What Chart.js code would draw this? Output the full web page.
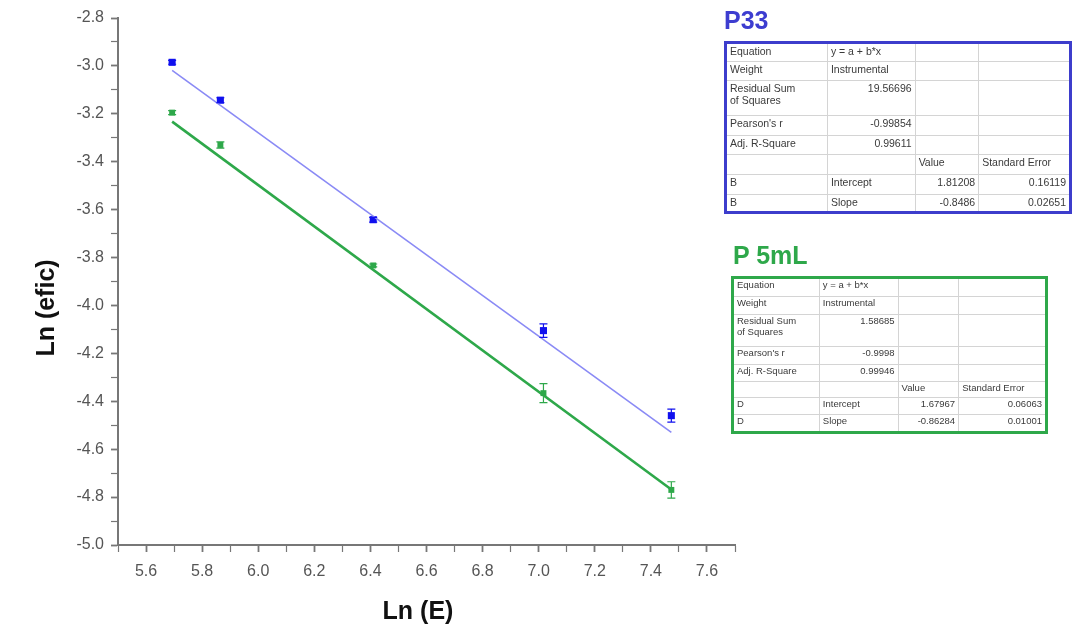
<!DOCTYPE html>
<html>
<head>
<meta charset="utf-8">
<script src="https://cdn.jsdelivr.net/npm/chart.js@4.4.1/dist/chart.umd.min.js"></script>
<style>
  html, body { margin: 0; padding: 0; background: #fff; }
  #wrap { position: relative; width: 1074px; height: 637px; overflow: hidden; }
  #chartBox { position: absolute; left: 0; top: 0; width: 1074px; height: 637px; }
  .fitTitle { position: absolute; font: bold 25px "Liberation Sans", Arial, sans-serif; }
  table.fit {
    position: absolute; border-collapse: collapse; table-layout: fixed;
    font-family: "Liberation Sans", Arial, sans-serif; color: #3a3a3a;
  }
  table.fit td { border: 1px solid #d4d4d4; padding: 1px 3px; vertical-align: top; white-space: nowrap; overflow: hidden; line-height: 1.15; }
  table.fit td.n { text-align: right; }
  #t1 { left: 724px; top: 41px; width: 348px; border: 3px solid #3d3dcc; font-size: 10.5px; }
  #t2 { left: 731px; top: 276px; width: 317px; border: 3px solid #2ea84a; font-size: 9.5px; }
</style>
</head>
<body>
<div id="wrap">
  <div id="chartBox"><canvas id="fitChart"></canvas></div>

  <div class="fitTitle" style="left:724px; top:6px; color:#3d3dd0;">P33</div>
  <table class="fit" id="t1">
    <colgroup><col style="width:101px"><col style="width:87px"><col style="width:63px"><col style="width:91px"></colgroup>
    <tr style="height:19px"><td>Equation</td><td>y = a + b*x</td><td></td><td></td></tr>
    <tr style="height:19px"><td>Weight</td><td>Instrumental</td><td></td><td></td></tr>
    <tr style="height:35px"><td>Residual Sum<br>of Squares</td><td class="n">19.56696</td><td></td><td></td></tr>
    <tr style="height:20px"><td>Pearson's r</td><td class="n">-0.99854</td><td></td><td></td></tr>
    <tr style="height:19px"><td>Adj. R-Square</td><td class="n">0.99611</td><td></td><td></td></tr>
    <tr style="height:20px"><td></td><td></td><td>Value</td><td>Standard Error</td></tr>
    <tr style="height:20px"><td>B</td><td>Intercept</td><td class="n">1.81208</td><td class="n">0.16119</td></tr>
    <tr style="height:18px"><td>B</td><td>Slope</td><td class="n">-0.8486</td><td class="n">0.02651</td></tr>
  </table>

  <div class="fitTitle" style="left:733px; top:241px; color:#2ea84a;">P 5mL</div>
  <table class="fit" id="t2">
    <colgroup><col style="width:86px"><col style="width:78px"><col style="width:60px"><col style="width:87px"></colgroup>
    <tr style="height:19px"><td>Equation</td><td>y = a + b*x</td><td></td><td></td></tr>
    <tr style="height:18px"><td>Weight</td><td>Instrumental</td><td></td><td></td></tr>
    <tr style="height:32px"><td>Residual Sum<br>of Squares</td><td class="n">1.58685</td><td></td><td></td></tr>
    <tr style="height:18px"><td>Pearson's r</td><td class="n">-0.9998</td><td></td><td></td></tr>
    <tr style="height:17px"><td>Adj. R-Square</td><td class="n">0.99946</td><td></td><td></td></tr>
    <tr style="height:16px"><td></td><td></td><td>Value</td><td>Standard Error</td></tr>
    <tr style="height:17px"><td>D</td><td>Intercept</td><td class="n">1.67967</td><td class="n">0.06063</td></tr>
    <tr style="height:18px"><td>D</td><td>Slope</td><td class="n">-0.86284</td><td class="n">0.01001</td></tr>
  </table>
</div>

<script>
// Ln(E) values and measured Ln(efic) with their errors
const lnE = [5.693, 5.865, 6.41, 7.017, 7.473];
const p33Efic = [-2.985, -3.143, -3.642, -4.105, -4.46];
const p33Err = [0.008, 0.01, 0.01, 0.028, 0.027];
const p5Efic = [-3.195, -3.33, -3.833, -4.366, -4.77];
const p5Err = [0.008, 0.013, 0.006, 0.04, 0.034];

// linear fit parameters (intercept, slope)
const p33Fit = [1.81208, -0.8486];
const p5Fit = [1.67967, -0.86284];

const xMin = 5.5, xMax = 7.7;
const yMin = -5.0, yMax = -2.8;

function fitLine(fit) {
    const x0 = lnE[0], x1 = lnE[lnE.length - 1];
    return [{ x: x0, y: fit[0] + fit[1] * x0 }, { x: x1, y: fit[0] + fit[1] * x1 }];
}
function points(ys) {
    return lnE.map((x, i) => ({ x: x, y: ys[i] }));
}

// vertical error bars with caps
const errorBars = {
    id: 'errorBars',
    afterDatasetsDraw(chart) {
        const ctx = chart.ctx;
        const xs = chart.scales.x, ys = chart.scales.y;
        chart.data.datasets.forEach(ds => {
            if (!ds.errors) return;
            ctx.save();
            ctx.strokeStyle = ds.borderColor;
            ctx.lineWidth = 1.2;
            ds.data.forEach((p, i) => {
                const px = xs.getPixelForValue(p.x);
                const top = ys.getPixelForValue(p.y + ds.errors[i]);
                const bot = ys.getPixelForValue(p.y - ds.errors[i]);
                ctx.beginPath();
                ctx.moveTo(px, top); ctx.lineTo(px, bot);
                ctx.moveTo(px - 4, top); ctx.lineTo(px + 4, top);
                ctx.moveTo(px - 4, bot); ctx.lineTo(px + 4, bot);
                ctx.stroke();
            });
            ctx.restore();
        });
    }
};

// axis titles
const axisTitles = {
    id: 'axisTitles',
    afterDraw(chart) {
        const ctx = chart.ctx, area = chart.chartArea;
        ctx.save();
        ctx.font = 'bold 25px "Liberation Sans", Arial, sans-serif';
        ctx.fillStyle = '#111';
        ctx.textAlign = 'center';
        ctx.textBaseline = 'middle';
        ctx.fillText('Ln (E)', area.left + 300, 612);
        ctx.translate(47, area.top + 290);
        ctx.rotate(-Math.PI / 2);
        ctx.fillText('Ln (efic)', 0, 0);
        ctx.restore();
    }
};

const tickFont = { family: '"Liberation Sans", Arial, sans-serif', size: 16 };
const evenTenth = v => Math.round(v * 10) % 2 === 0;

const ctx = document.getElementById('fitChart').getContext('2d');
new Chart(ctx, {
    data: {
        datasets: [
            {
                type: 'line',
                label: 'P33 fit',
                data: fitLine(p33Fit),
                borderColor: '#8a8af5',
                borderWidth: 1.6,
                pointRadius: 0,
                fill: false
            },
            {
                type: 'line',
                label: 'P 5mL fit',
                data: fitLine(p5Fit),
                borderColor: '#2ea84a',
                borderWidth: 2.6,
                pointRadius: 0,
                fill: false
            },
            {
                type: 'scatter',
                label: 'P33',
                data: points(p33Efic),
                errors: p33Err,
                borderColor: '#1010ee',
                backgroundColor: '#1010ee',
                pointStyle: 'rect',
                pointRadius: 5,
                borderWidth: 0
            },
            {
                type: 'scatter',
                label: 'P 5mL',
                data: points(p5Efic),
                errors: p5Err,
                borderColor: '#2ea84a',
                backgroundColor: '#2ea84a',
                pointStyle: 'rect',
                pointRadius: 4.2,
                borderWidth: 0
            }
        ]
    },
    options: {
        responsive: true,
        maintainAspectRatio: false,
        animation: false,
        layout: { padding: { top: 18, right: 339, bottom: 0, left: 0 } },
        plugins: {
            legend: { display: false },
            tooltip: { enabled: false },
            title: { display: false }
        },
        scales: {
            x: {
                type: 'linear',
                min: xMin,
                max: xMax,
                afterFit: s => { s.height = 92; },
                border: { color: '#777', width: 2 },
                grid: {
                    drawOnChartArea: false, tickLength: 7, tickColor: '#777',
                    tickWidth: c => evenTenth(c.tick.value) ? 1.8 : 1.2
                },
                ticks: {
                    stepSize: 0.1,
                    autoSkip: false,
                    maxRotation: 0,
                    padding: 10,
                    color: '#555',
                    font: tickFont,
                    callback: v => evenTenth(v) && v > xMin + 0.01 && v < xMax - 0.01 ? v.toFixed(1) : ''
                }
            },
            y: {
                type: 'linear',
                min: yMin,
                max: yMax,
                afterFit: s => { s.width = 118; },
                border: { color: '#777', width: 2 },
                grid: {
                    drawOnChartArea: false, tickLength: 7, tickColor: '#777',
                    tickWidth: c => evenTenth(c.tick.value) ? 1.8 : 1.2
                },
                ticks: {
                    stepSize: 0.1,
                    autoSkip: false,
                    padding: 7,
                    color: '#555',
                    font: tickFont,
                    callback: v => evenTenth(v) ? v.toFixed(1) : ''
                }
            }
        }
    },
    plugins: [errorBars, axisTitles]
});
</script>
</body>
</html>
